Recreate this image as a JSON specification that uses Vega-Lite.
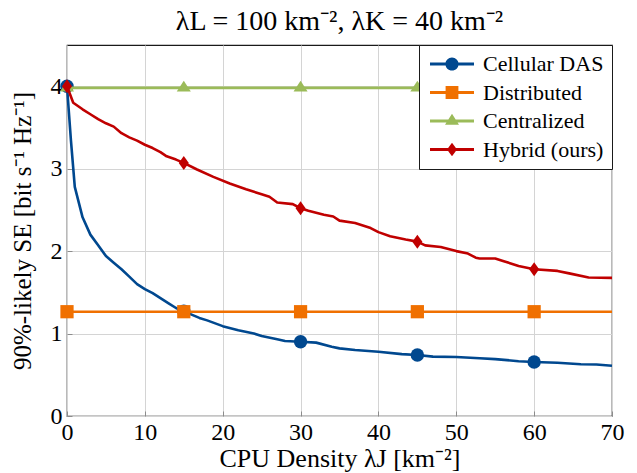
{
  "$schema": "https://vega.github.io/schema/vega-lite/v6.json",
  "width": 545,
  "height": 371,
  "autosize": {"type": "none"},
  "padding": {"left": 67, "top": 45, "right": 25, "bottom": 57},
  "title": {"text": "λL = 100 km⁻², λK = 40 km⁻²", "font": "Liberation Serif", "fontSize": 28, "fontWeight": "normal", "offset": 9, "anchor": "middle", "color": "black"},
  "config": {
    "view": {"stroke": "#1a1a1a", "strokeWidth": 1.2},
    "axis": {
      "labelFont": "Liberation Serif", "labelFontSize": 24, "labelColor": "black",
      "titleFont": "Liberation Serif", "titleFontSize": 25, "titleFontWeight": "normal", "titleColor": "black",
      "grid": true, "gridColor": "#d4d4d4", "gridWidth": 1,
      "domain": false, "tickColor": "#8c8c8c", "tickSize": -5, "tickWidth": 1,
      "labelFlush": false, "labelOverlap": false, "format": "d"
    }
  },
  "data": {"values": [
    {"s": "Cellular DAS", "x": 0, "y": 4.0, "m": 1},
    {"s": "Cellular DAS", "x": 0.5, "y": 3.35, "m": 0},
    {"s": "Cellular DAS", "x": 1, "y": 2.78, "m": 0},
    {"s": "Cellular DAS", "x": 2, "y": 2.41, "m": 0},
    {"s": "Cellular DAS", "x": 3, "y": 2.2, "m": 0},
    {"s": "Cellular DAS", "x": 4, "y": 2.07, "m": 0},
    {"s": "Cellular DAS", "x": 5, "y": 1.94, "m": 0},
    {"s": "Cellular DAS", "x": 6, "y": 1.86, "m": 0},
    {"s": "Cellular DAS", "x": 7, "y": 1.78, "m": 0},
    {"s": "Cellular DAS", "x": 8, "y": 1.69, "m": 0},
    {"s": "Cellular DAS", "x": 9, "y": 1.6, "m": 0},
    {"s": "Cellular DAS", "x": 10, "y": 1.54, "m": 0},
    {"s": "Cellular DAS", "x": 11, "y": 1.49, "m": 0},
    {"s": "Cellular DAS", "x": 12, "y": 1.43, "m": 0},
    {"s": "Cellular DAS", "x": 13, "y": 1.37, "m": 0},
    {"s": "Cellular DAS", "x": 14, "y": 1.31, "m": 0},
    {"s": "Cellular DAS", "x": 15, "y": 1.27, "m": 1},
    {"s": "Cellular DAS", "x": 16, "y": 1.23, "m": 0},
    {"s": "Cellular DAS", "x": 17, "y": 1.19, "m": 0},
    {"s": "Cellular DAS", "x": 18, "y": 1.16, "m": 0},
    {"s": "Cellular DAS", "x": 20, "y": 1.09, "m": 0},
    {"s": "Cellular DAS", "x": 22, "y": 1.04, "m": 0},
    {"s": "Cellular DAS", "x": 24, "y": 1.0, "m": 0},
    {"s": "Cellular DAS", "x": 25, "y": 0.97, "m": 0},
    {"s": "Cellular DAS", "x": 27, "y": 0.93, "m": 0},
    {"s": "Cellular DAS", "x": 28, "y": 0.91, "m": 0},
    {"s": "Cellular DAS", "x": 30, "y": 0.9, "m": 1},
    {"s": "Cellular DAS", "x": 32, "y": 0.89, "m": 0},
    {"s": "Cellular DAS", "x": 34, "y": 0.84, "m": 0},
    {"s": "Cellular DAS", "x": 35, "y": 0.82, "m": 0},
    {"s": "Cellular DAS", "x": 37, "y": 0.8, "m": 0},
    {"s": "Cellular DAS", "x": 40, "y": 0.78, "m": 0},
    {"s": "Cellular DAS", "x": 43, "y": 0.75, "m": 0},
    {"s": "Cellular DAS", "x": 45, "y": 0.74, "m": 1},
    {"s": "Cellular DAS", "x": 47, "y": 0.72, "m": 0},
    {"s": "Cellular DAS", "x": 50, "y": 0.715, "m": 0},
    {"s": "Cellular DAS", "x": 53, "y": 0.7, "m": 0},
    {"s": "Cellular DAS", "x": 55, "y": 0.69, "m": 0},
    {"s": "Cellular DAS", "x": 58, "y": 0.665, "m": 0},
    {"s": "Cellular DAS", "x": 60, "y": 0.655, "m": 1},
    {"s": "Cellular DAS", "x": 63, "y": 0.645, "m": 0},
    {"s": "Cellular DAS", "x": 66, "y": 0.628, "m": 0},
    {"s": "Cellular DAS", "x": 68, "y": 0.625, "m": 0},
    {"s": "Cellular DAS", "x": 70, "y": 0.61, "m": 0},
    {"s": "Distributed", "x": 0, "y": 1.265, "m": 1},
    {"s": "Distributed", "x": 15, "y": 1.265, "m": 1},
    {"s": "Distributed", "x": 30, "y": 1.265, "m": 1},
    {"s": "Distributed", "x": 45, "y": 1.265, "m": 1},
    {"s": "Distributed", "x": 60, "y": 1.265, "m": 1},
    {"s": "Distributed", "x": 70, "y": 1.265, "m": 0},
    {"s": "Centralized", "x": 0, "y": 3.98, "m": 1},
    {"s": "Centralized", "x": 15, "y": 3.98, "m": 1},
    {"s": "Centralized", "x": 30, "y": 3.98, "m": 1},
    {"s": "Centralized", "x": 45, "y": 3.98, "m": 1},
    {"s": "Centralized", "x": 60, "y": 3.98, "m": 1},
    {"s": "Centralized", "x": 70, "y": 3.98, "m": 0},
    {"s": "Hybrid (ours)", "x": 0, "y": 4.0, "m": 1},
    {"s": "Hybrid (ours)", "x": 0.8, "y": 3.8, "m": 0},
    {"s": "Hybrid (ours)", "x": 2, "y": 3.72, "m": 0},
    {"s": "Hybrid (ours)", "x": 3, "y": 3.66, "m": 0},
    {"s": "Hybrid (ours)", "x": 4, "y": 3.6, "m": 0},
    {"s": "Hybrid (ours)", "x": 5, "y": 3.55, "m": 0},
    {"s": "Hybrid (ours)", "x": 6, "y": 3.51, "m": 0},
    {"s": "Hybrid (ours)", "x": 7, "y": 3.43, "m": 0},
    {"s": "Hybrid (ours)", "x": 8, "y": 3.38, "m": 0},
    {"s": "Hybrid (ours)", "x": 9, "y": 3.34, "m": 0},
    {"s": "Hybrid (ours)", "x": 10, "y": 3.29, "m": 0},
    {"s": "Hybrid (ours)", "x": 11, "y": 3.25, "m": 0},
    {"s": "Hybrid (ours)", "x": 12, "y": 3.2, "m": 0},
    {"s": "Hybrid (ours)", "x": 12.8, "y": 3.15, "m": 0},
    {"s": "Hybrid (ours)", "x": 14, "y": 3.11, "m": 0},
    {"s": "Hybrid (ours)", "x": 15, "y": 3.07, "m": 1},
    {"s": "Hybrid (ours)", "x": 16.7, "y": 2.99, "m": 0},
    {"s": "Hybrid (ours)", "x": 18.8, "y": 2.9, "m": 0},
    {"s": "Hybrid (ours)", "x": 20.9, "y": 2.82, "m": 0},
    {"s": "Hybrid (ours)", "x": 23, "y": 2.75, "m": 0},
    {"s": "Hybrid (ours)", "x": 25, "y": 2.69, "m": 0},
    {"s": "Hybrid (ours)", "x": 26, "y": 2.66, "m": 0},
    {"s": "Hybrid (ours)", "x": 27, "y": 2.59, "m": 0},
    {"s": "Hybrid (ours)", "x": 29, "y": 2.57, "m": 0},
    {"s": "Hybrid (ours)", "x": 30, "y": 2.52, "m": 1},
    {"s": "Hybrid (ours)", "x": 31, "y": 2.49, "m": 0},
    {"s": "Hybrid (ours)", "x": 33, "y": 2.44, "m": 0},
    {"s": "Hybrid (ours)", "x": 34.2, "y": 2.42, "m": 0},
    {"s": "Hybrid (ours)", "x": 35, "y": 2.37, "m": 0},
    {"s": "Hybrid (ours)", "x": 37, "y": 2.34, "m": 0},
    {"s": "Hybrid (ours)", "x": 39, "y": 2.28, "m": 0},
    {"s": "Hybrid (ours)", "x": 40, "y": 2.23, "m": 0},
    {"s": "Hybrid (ours)", "x": 41.5, "y": 2.18, "m": 0},
    {"s": "Hybrid (ours)", "x": 43.5, "y": 2.14, "m": 0},
    {"s": "Hybrid (ours)", "x": 45, "y": 2.115, "m": 1},
    {"s": "Hybrid (ours)", "x": 46, "y": 2.07, "m": 0},
    {"s": "Hybrid (ours)", "x": 48, "y": 2.05, "m": 0},
    {"s": "Hybrid (ours)", "x": 50, "y": 2.0, "m": 0},
    {"s": "Hybrid (ours)", "x": 51.5, "y": 1.97, "m": 0},
    {"s": "Hybrid (ours)", "x": 52.5, "y": 1.92, "m": 0},
    {"s": "Hybrid (ours)", "x": 53, "y": 1.91, "m": 0},
    {"s": "Hybrid (ours)", "x": 55, "y": 1.91, "m": 0},
    {"s": "Hybrid (ours)", "x": 56, "y": 1.88, "m": 0},
    {"s": "Hybrid (ours)", "x": 58, "y": 1.82, "m": 0},
    {"s": "Hybrid (ours)", "x": 60, "y": 1.78, "m": 1},
    {"s": "Hybrid (ours)", "x": 63, "y": 1.76, "m": 0},
    {"s": "Hybrid (ours)", "x": 64.5, "y": 1.73, "m": 0},
    {"s": "Hybrid (ours)", "x": 67, "y": 1.68, "m": 0},
    {"s": "Hybrid (ours)", "x": 70, "y": 1.675, "m": 0}
  ]},
  "encoding": {
    "x": {"field": "x", "type": "quantitative", "scale": {"domain": [0, 70], "nice": false, "zero": false},
          "axis": {"values": [0, 10, 20, 30, 40, 50, 60, 70], "title": "CPU Density λJ [km⁻²]", "labelPadding": 9, "titlePadding": 1, "titleFontSize": 26}},
    "y": {"field": "y", "type": "quantitative", "scale": {"domain": [0, 4.5], "nice": false},
          "axis": {"values": [0, 1, 2, 3, 4], "title": "90%-likely SE [bit s⁻¹ Hz⁻¹]", "labelPadding": 10, "titlePadding": 15}}
  },
  "layer": [
    {
      "transform": [{"filter": "datum.s == 'Cellular DAS'"}],
      "mark": {"type": "line", "strokeWidth": 2.6, "strokeJoin": "round", "color": "#00488f"}
    },
    {
      "transform": [{"filter": "datum.s == 'Cellular DAS' && datum.m == 1"}],
      "mark": {"type": "point", "shape": "circle", "filled": true, "size": 180, "color": "#00488f", "opacity": 1}
    },
    {
      "transform": [{"filter": "datum.s == 'Distributed'"}],
      "mark": {"type": "line", "strokeWidth": 2.6, "strokeJoin": "round", "color": "#f07000"}
    },
    {
      "transform": [{"filter": "datum.s == 'Distributed' && datum.m == 1"}],
      "mark": {"type": "point", "shape": "square", "filled": true, "size": 175, "color": "#f07000", "opacity": 1}
    },
    {
      "transform": [{"filter": "datum.s == 'Centralized'"}],
      "mark": {"type": "line", "strokeWidth": 2.6, "strokeJoin": "round", "color": "#9bbb59"}
    },
    {
      "transform": [{"filter": "datum.s == 'Centralized' && datum.m == 1"}],
      "mark": {"type": "point", "shape": "M0,-1.1L1.08,0.57L-1.08,0.57Z", "filled": true, "size": 169, "color": "#9bbb59", "opacity": 1}
    },
    {
      "transform": [{"filter": "datum.s == 'Hybrid (ours)'"}],
      "mark": {"type": "line", "strokeWidth": 2.6, "strokeJoin": "round", "color": "#c00000"}
    },
    {
      "transform": [{"filter": "datum.s == 'Hybrid (ours)' && datum.m == 1"}],
      "mark": {"type": "point", "shape": "M0,-1L0.72,0L0,1L-0.72,0Z", "filled": true, "size": 196, "color": "#c00000", "opacity": 1}
    },
    {
      "transform": [{"filter": "datum.m == 1"}],
      "mark": {"type": "point", "filled": true, "size": 0, "strokeWidth": 0, "opacity": 1},
      "encoding": {
        "color": {"field": "s", "type": "nominal",
                  "scale": {"domain": ["Cellular DAS", "Distributed", "Centralized", "Hybrid (ours)"], "range": ["#00488f", "#f07000", "#9bbb59", "#c00000"]},
                  "legend": {"title": null, "orient": "top-right", "offset": 0, "symbolSize": 400, "symbolStrokeWidth": 0, "symbolOpacity": 1,
                             "symbolOffset": 14, "labelOffset": 20,
                             "labelFont": "Liberation Serif", "labelFontSize": 22, "labelColor": "black",
                             "padding": 8, "rowPadding": 6.5, "strokeColor": "#1a1a1a", "fillColor": "white", "cornerRadius": 0}},
        "shape": {"field": "s", "type": "nominal",
                  "scale": {"domain": ["Cellular DAS", "Distributed", "Centralized", "Hybrid (ours)"],
                            "range": [
                              "M-2.2,-0.14L2.2,-0.14L2.2,0.14L-2.2,0.14Z M0.66,0A0.66,0.66 0 1,1 -0.66,0A0.66,0.66 0 1,1 0.66,0Z",
                              "M-2.2,-0.14L2.2,-0.14L2.2,0.14L-2.2,0.14Z M-0.64,-0.64L0.64,-0.64L0.64,0.64L-0.64,0.64Z",
                              "M-2.2,-0.14L2.2,-0.14L2.2,0.14L-2.2,0.14Z M0,-0.73L0.7,0.37L-0.7,0.37Z",
                              "M-2.2,-0.14L2.2,-0.14L2.2,0.14L-2.2,0.14Z M0,-0.68L0.5,0L0,0.68L-0.5,0Z"
                            ]}}
      }
    }
  ]
}
